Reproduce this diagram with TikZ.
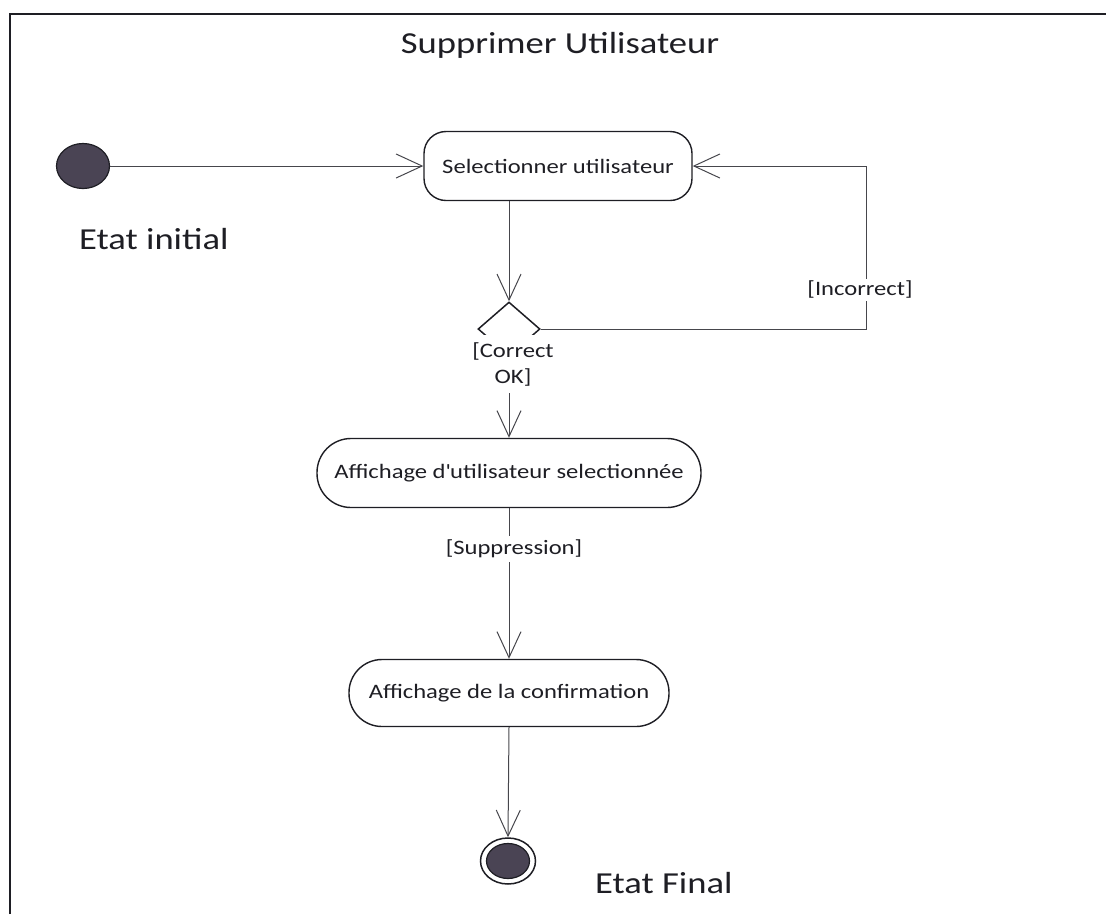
\documentclass[tikz,border=0pt]{standalone}
\usepackage{fontspec}
\setmainfont{Carlito}[FakeStretch=1.2]
\usetikzlibrary{arrows.meta,shapes.geometric}
\definecolor{ink}{RGB}{30,30,36}
\definecolor{wire}{RGB}{70,70,76}
\definecolor{dot}{RGB}{74,68,84}
\begin{document}
\begin{tikzpicture}[x=1pt,y=-1pt,
  txt/.style={text=ink, inner sep=0pt},
  big/.style={txt, font=\fontsize{30.5}{34}\selectfont},
  action/.style={draw=ink, line width=1.4pt, rectangle, text=ink,
    font=\fontsize{20.5}{25}\selectfont, inner sep=0pt},
  lbl/.style={fill=white, text=ink, font=\fontsize{20.5}{26}\selectfont,
    align=center, inner xsep=3pt, inner ysep=2.5pt},
  conn/.style={draw=wire, line width=1pt},
  arr/.style={conn, -{Straight Barb[length=26pt, width=24pt, line width=1pt]}},
  startdot/.style={ellipse, draw=ink, line width=1.2pt, fill=dot, inner sep=0pt},
]
\useasboundingbox (0,0) rectangle (1106,914);

% outer frame (top and left edges)
\draw[ink, line width=2pt] (10,914) -- (10,14) -- (1106,14);

% title
\node[big, anchor=base] (title) at (560,53) {Supprimer Utilisateur};

% initial state
\node[startdot, minimum width=53pt, minimum height=45pt] (init) at (83,166) {};
\node[big, anchor=base west] (initlbl) at (79,249) {Etat initial};

% activities
\node[action, rounded corners=22pt, minimum width=268pt, minimum height=69pt]
  (sel) at (558,166) {Selectionner utilisateur};
\node[diamond, draw=ink, line width=1.5pt, minimum width=62pt, minimum height=54pt,
  inner sep=0pt, aspect=1.15] (dec) at (509,329) {};
\node[action, rounded corners=34pt, minimum width=384pt, minimum height=69pt]
  (aff) at (509,473) {Affichage d\textquotesingle utilisateur selectionnée};
\node[action, rounded corners=33pt, minimum width=320pt, minimum height=67pt]
  (conf) at (509,693) {Affichage de la confirmation};

% final state
\node[ellipse, draw=ink, line width=1.5pt, fill=white, minimum width=55pt,
  minimum height=46pt, inner sep=0pt] (fin) at (508,861) {};
\node[startdot, minimum width=43pt, minimum height=35pt] (fincore) at (fin.center) {};
\node[big, anchor=base west] (finlbl) at (595,893) {Etat Final};

% flows
\coordinate (rt) at (866,329);
\draw[arr] (init) -- (sel);
\draw[arr] (dec.north |- sel.south) -- (dec.north);
\draw[arr] (dec.east) -- (rt) |- node[lbl, pos=0.12, xshift=-6pt] {[Incorrect]} (sel.east);
\draw[arr] (dec.south) -- node[lbl, pos=0.09, xshift=4pt, inner ysep=7pt] {[Correct\\OK]} (aff.north);
\draw[arr] (aff.south) -- node[lbl, pos=0.27, xshift=5pt, inner ysep=4pt] {[Suppression]} (conf.north);
\draw[arr] (conf.south) -- (fin.north);
\end{tikzpicture}
\end{document}
